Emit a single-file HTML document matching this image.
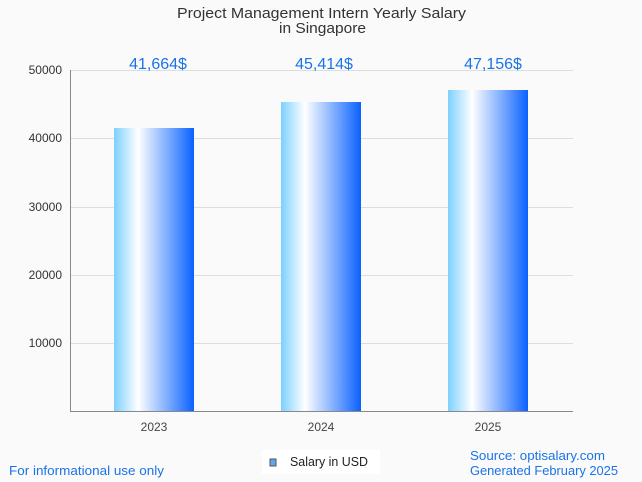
<!DOCTYPE html>
<html><head><style>
html,body{margin:0;padding:0;background:#fafafa;}
svg{display:block;font-family:"Liberation Sans",Arial,sans-serif;}
</style></head><body>
<svg width="642" height="482" viewBox="0 0 642 482" xmlns="http://www.w3.org/2000/svg">
<defs>
<linearGradient id="g" x1="0" x2="1" y1="0" y2="0">
<stop offset="0" stop-color="#7dd0ff"/>
<stop offset="0.3" stop-color="#ffffff"/>
<stop offset="1" stop-color="#0a62ff"/>
</linearGradient>
</defs>
<rect width="642" height="482" fill="#fafafa"/>
<text x="177" y="18" font-size="15" fill="#333" textLength="289" lengthAdjust="spacingAndGlyphs">Project Management Intern Yearly Salary</text>
<text x="279" y="33" font-size="15" fill="#333" textLength="87" lengthAdjust="spacingAndGlyphs">in Singapore</text>
<g stroke="#dddddd" stroke-width="1">
<line x1="70" x2="573" y1="70.5" y2="70.5"/>
<line x1="70" x2="573" y1="138.5" y2="138.5"/>
<line x1="70" x2="573" y1="207.5" y2="207.5"/>
<line x1="70" x2="573" y1="275.5" y2="275.5"/>
<line x1="70" x2="573" y1="343.5" y2="343.5"/>
</g>
<g font-size="12" fill="#333" text-anchor="end">
<text x="62" y="74">50000</text>
<text x="62" y="142">40000</text>
<text x="62" y="211">30000</text>
<text x="62" y="279">20000</text>
<text x="62" y="347">10000</text>
</g>
<rect x="114" y="128" width="80" height="283" fill="url(#g)"/>
<rect x="281" y="102" width="80" height="309" fill="url(#g)"/>
<rect x="448" y="90" width="80" height="321" fill="url(#g)"/>
<line x1="70.5" x2="70.5" y1="70" y2="412" stroke="#888"/>
<line x1="70" x2="573" y1="411.5" y2="411.5" stroke="#888"/>
<g font-size="16" fill="#1a73e8" text-anchor="middle">
<text x="158" y="69">41,664$</text>
<text x="324" y="69">45,414$</text>
<text x="493" y="69">47,156$</text>
</g>
<g font-size="12" fill="#444" text-anchor="middle">
<text x="154" y="431">2023</text>
<text x="321" y="431">2024</text>
<text x="488" y="431">2025</text>
</g>
<rect x="216" y="450" width="92" height="24" fill="#fafafa"/>
<rect x="262" y="450" width="118" height="24" fill="#ffffff"/>
<rect x="270" y="459" width="6" height="7" fill="#5aa9ef" stroke="#555" stroke-width="1"/>
<text x="290" y="466" font-size="13" fill="#222" textLength="78" lengthAdjust="spacingAndGlyphs">Salary in USD</text>
<text x="9" y="475" font-size="13" fill="#1a73e8" textLength="155" lengthAdjust="spacingAndGlyphs">For informational use only</text>
<text x="470" y="460" font-size="13" fill="#1a73e8" textLength="135" lengthAdjust="spacingAndGlyphs">Source: optisalary.com</text>
<text x="470" y="475" font-size="13" fill="#1a73e8" textLength="148" lengthAdjust="spacingAndGlyphs">Generated February 2025</text>
</svg>
</body></html>
